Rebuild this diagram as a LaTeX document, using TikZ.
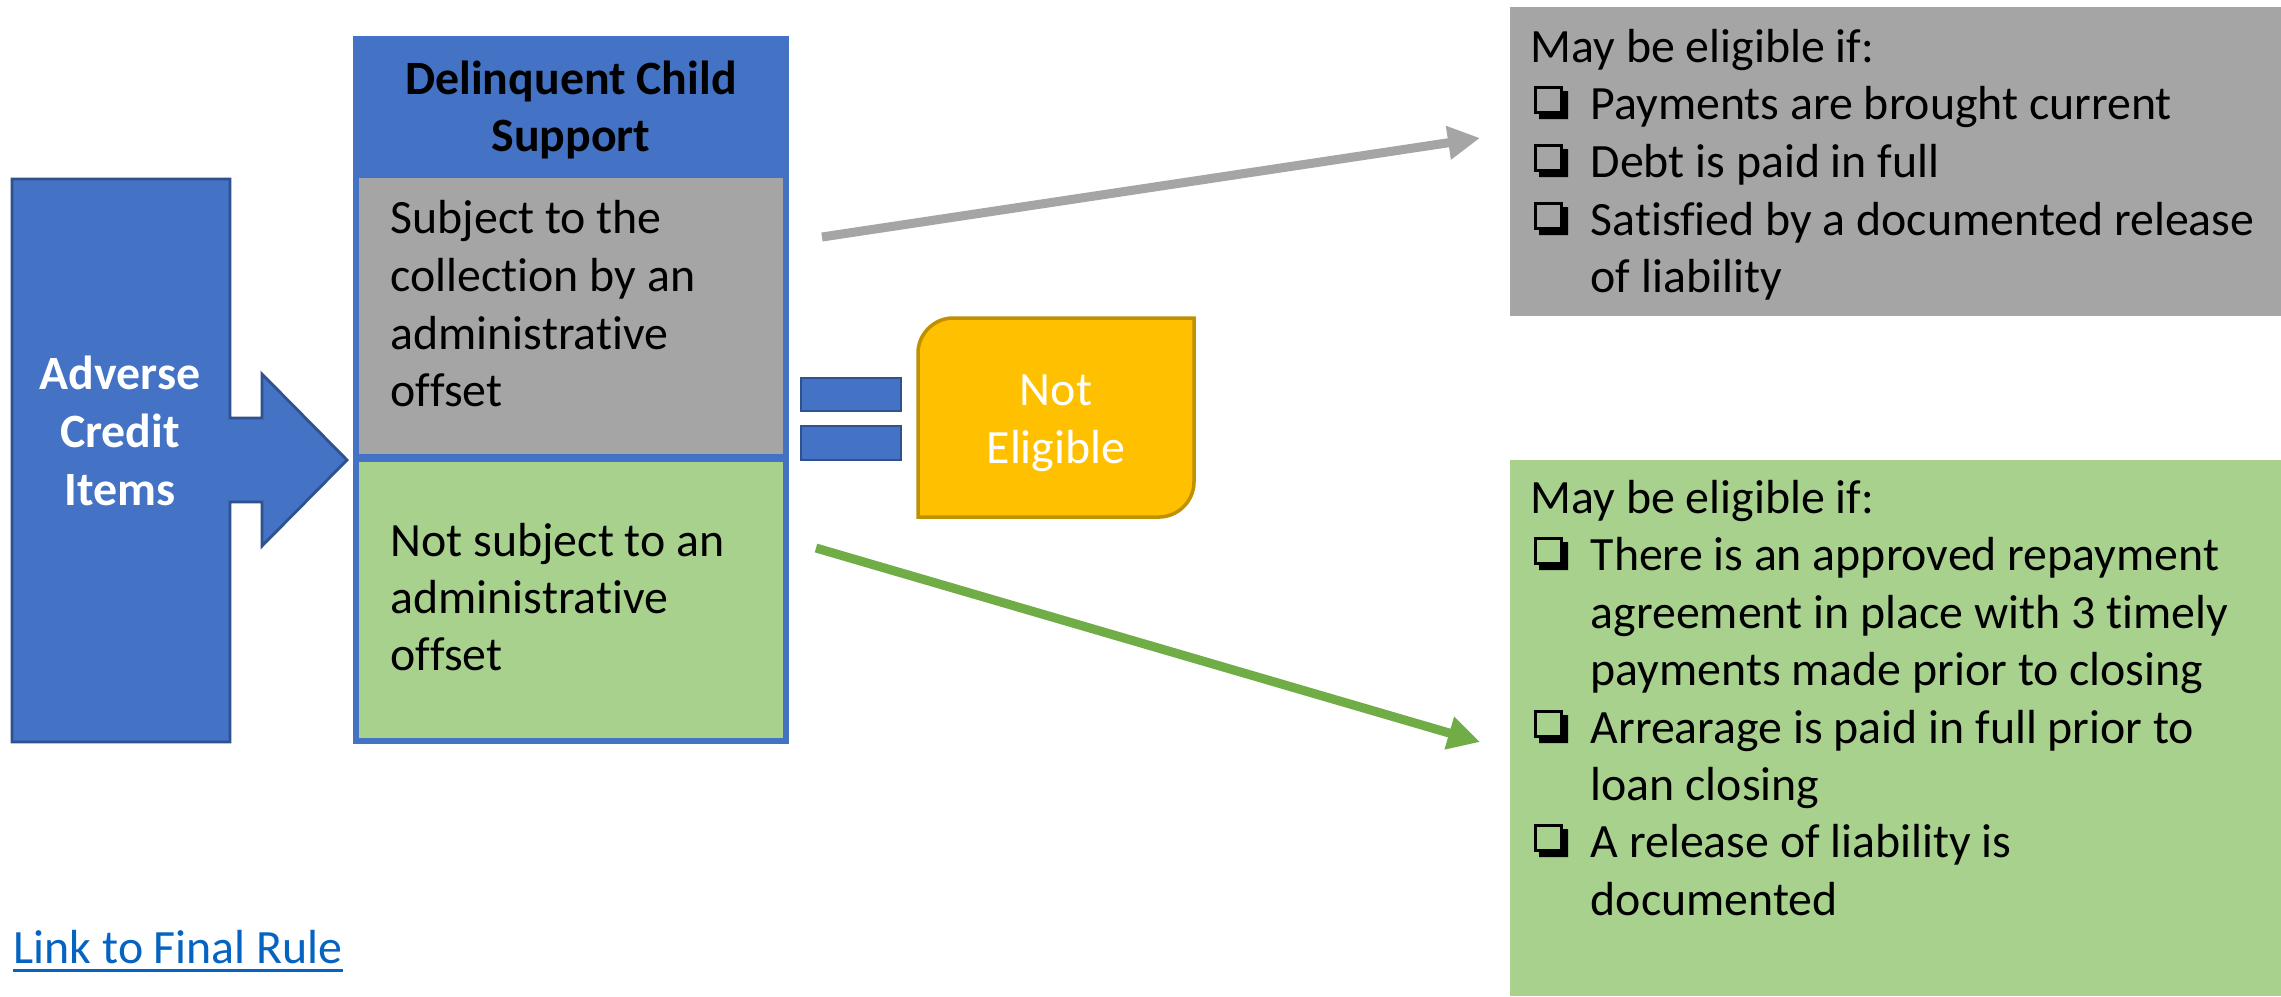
\documentclass[tikz,border=0pt]{standalone}
\usepackage{fontspec}
\setmainfont{Carlito}[Ligatures=CommonOff]
\usetikzlibrary{arrows.meta}

\definecolor{blu}{HTML}{4472C4}
\definecolor{bluedge}{HTML}{2F528F}
\definecolor{gry}{HTML}{A5A5A5}
\definecolor{grn}{HTML}{A9D18E}
\definecolor{grnline}{HTML}{70AD47}
\definecolor{gold}{HTML}{FFC000}
\definecolor{goldedge}{HTML}{BF9000}
\definecolor{linkblue}{HTML}{0563C1}

\tikzset{
  txt/.style={inner sep=0pt, font=\fontsize{13.6pt}{16.35pt}\selectfont},
  lft/.style={txt, anchor=base west},
  ctr/.style={txt, anchor=base},
  bold/.style={font=\fontsize{13.6pt}{16.35pt}\selectfont\bfseries},
  flow/.style={line width=2.56pt, -{Triangle[length=9.1pt,width=9.1pt]}},
  bar/.style={fill=blu, draw=bluedge, line width=0.8pt},
  % shadowed check box bullet, origin at the line's baseline start
  cbox/.pic={
    \fill[black] (33,-28) -- (38,-28) -- (38,0) -- (9,0) -- (9,-5) -- (33,-5) -- cycle;
    \draw[black, line width=0.85pt] (5.5,-31.5) rectangle (31.5,-6.5);
  },
}

\begin{document}
\begin{tikzpicture}[x=0.01cm, y=-0.01cm]
\useasboundingbox (0,0) rectangle (2281,996);
\fill[white] (0,0) rectangle (2281,996);

% block arrow on the left
\filldraw[fill=blu, draw=bluedge, line width=0.8pt]
  (12,179) -- (230,179) -- (230,418) -- (262,418) -- (262,374) -- (347,460)
  -- (262,546) -- (262,502) -- (230,502) -- (230,742) -- (12,742) -- cycle;
\node[ctr, bold, text=white] (adv1) at (120,389) {Adverse};
\node[ctr, bold, text=white] (adv2) at (120,447) {Credit};
\node[ctr, bold, text=white] (adv3) at (120,505) {Items};

% delinquent child support column
\fill[blu] (353,36) rectangle (789,744);
\fill[gry] (359,178) rectangle (783,454);
\fill[grn] (359,462) rectangle (783,738);
\node[ctr, bold] (hd1) at (571,94) {Delinquent Child};
\node[ctr, bold] (hd2) at (571,151) {Support};

\node[lft] (s1) at (390,233) {Subject to the};
\node[lft] (s2) at (390,291) {collection by an};
\node[lft] (s3) at (390,349) {administrative};
\node[lft] (s4) at (390,406) {offset};

\node[lft] (n1) at (390,556) {Not subject to an};
\node[lft] (n2) at (390,613) {administrative};
\node[lft] (n3) at (390,670) {offset};

% equals sign
\filldraw[bar] (801,378) rectangle (901,411);
\filldraw[bar] (801,426) rectangle (901,460);

% not eligible box
\filldraw[fill=gold, draw=goldedge, line width=1pt]
  (918,517) -- (918,353) .. controls (918,334) and (934,318) .. (953,318)
  -- (1194,318) -- (1194,482) .. controls (1194,501) and (1178,517) .. (1159,517)
  -- cycle;
\node[ctr, text=white] (ne1) at (1056,405) {Not};
\node[ctr, text=white] (ne2) at (1056,463) {Eligible};

% right-hand condition boxes
\fill[gry] (1510,7) rectangle (2281,316);
\fill[grn] (1510,460) rectangle (2281,996);

\node[lft] (a0) at (1530,62) {May be eligible if:};
\pic at (1530,119) {cbox};
\node[lft] (a1) at (1590,119) {Payments are brought current};
\pic at (1530,177) {cbox};
\node[lft] (a2) at (1590,177) {Debt is paid in full};
\pic at (1530,235) {cbox};
\node[lft] (a3) at (1590,235) {Satisfied by a documented release};
\node[lft] (a4) at (1590,292) {of liability};

\node[lft] (b0) at (1530,513) {May be eligible if:};
\pic at (1530,570) {cbox};
\node[lft] (b1) at (1590,570) {There is an approved repayment};
\node[lft] (b2) at (1590,628) {agreement in place with 3 timely};
\node[lft] (b3) at (1590,685) {payments made prior to closing};
\pic at (1530,743) {cbox};
\node[lft] (b4) at (1590,743) {Arrearage is paid in full prior to};
\node[lft] (b5) at (1590,800) {loan closing};
\pic at (1530,857) {cbox};
\node[lft] (b6) at (1590,857) {A release of liability is};
\node[lft] (b7) at (1590,915) {documented};

% connectors
\coordinate (gs) at (822,237);
\coordinate (ge) at (1480,138);
\coordinate (ns) at (816,548);
\coordinate (nend) at (1480,742);
\draw[flow, gry] (gs) -- (ge);
\draw[flow, grnline] (ns) -- (nend);

% link
\node[lft, text=linkblue] (link) at (13,963) {Link to Final Rule};
\draw[linkblue, line width=0.85pt] ([yshift=-2pt]link.base west) -- ([yshift=-2pt]link.base east);
\end{tikzpicture}
\end{document}
